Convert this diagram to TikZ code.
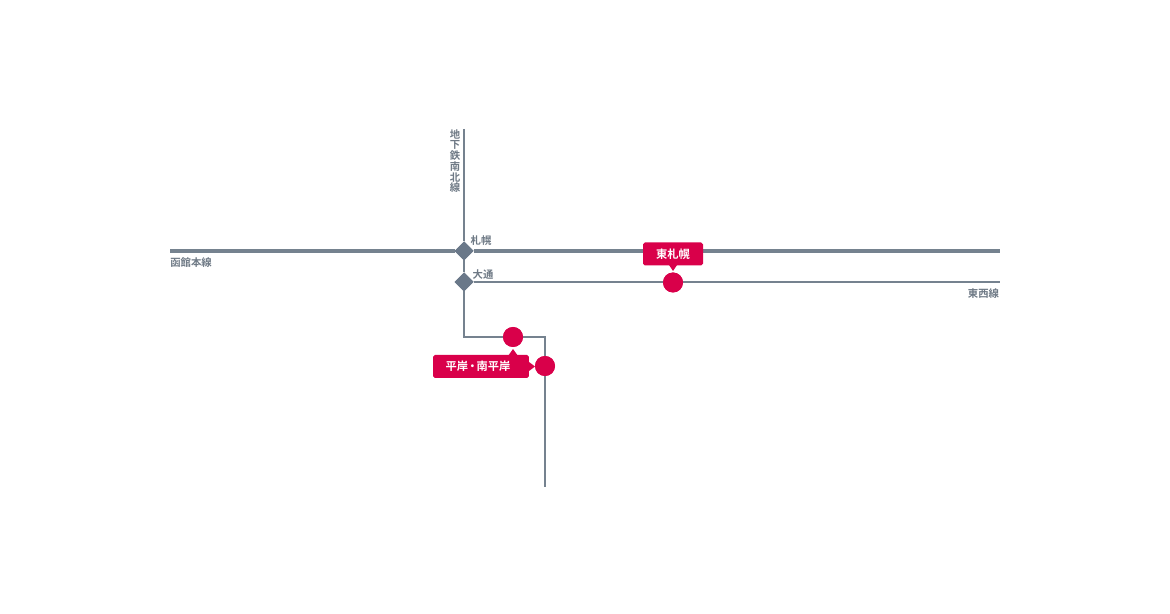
\documentclass[tikz,border=0pt]{standalone}
\usepackage{fontspec}
\setmainfont{Noto Sans CJK JP}[BoldFont={Noto Sans CJK JP Bold}]
\usepackage{xcolor}
\usetikzlibrary{positioning, shapes.geometric, shapes.misc, calc}
\definecolor{linegray}{HTML}{75828F}
\definecolor{nodegray}{HTML}{6A7889}
\definecolor{stopred}{HTML}{D9004A}
\definecolor{labelgray}{HTML}{6E7985}

\begin{document}
\begin{tikzpicture}[x=0.02cm, y=-0.02cm]
		\tikzstyle{stoplabel}=[fill=stopred, rounded corners=1pt, inner sep=0pt, minimum height=0.46cm, text=white, font=\fontsize{6.4pt}{7pt}\selectfont\bfseries]
		\tikzstyle{stopdot}=[circle, fill=stopred, minimum size=0.4cm, inner sep=0pt, outer sep=0pt]
		\tikzstyle{junction}=[diamond, fill=nodegray, minimum size=0.38cm, inner sep=0pt, outer sep=0pt]
		\tikzstyle{linename}=[text=labelgray, inner sep=0pt, font=\fontsize{5.9pt}{6.1pt}\selectfont\bfseries]
		\tikzstyle{thinline}=[draw=linegray, line width=0.75pt]
		\tikzstyle{thickline}=[draw=linegray, line width=2.1pt]

		\useasboundingbox (0,0) rectangle (1170,614);

		% free ends of the lines
		\coordinate (mainw) at (170,251);
		\coordinate (maine) at (1000,251);
		\coordinate (subn) at (464,129);
		\coordinate (tozai) at (1000,282);
		\coordinate (bendl) at (464,337);
		\coordinate (bendr) at (545,337);
		\coordinate (sube) at (545,487);

		\node (sapporo) at (464,251) [junction] {};
		\node (odori) at (464,282) [junction] {};
		\node (higashi) at (673,282.5) [stopdot] {};
		\node (hiragishi) at (513,337) [stopdot] {};
		\node (minami) at (545,366) [stopdot] {};

		\draw [thickline] (mainw) -- (sapporo) -- (maine);
		\draw [thinline] (subn) -- (sapporo) -- (odori) -- (bendl) -- (hiragishi) -- (bendr) -- (minami) -- (sube);
		\draw [thinline] (odori) -- (tozai);

		% junctions and stops again, on top of the lines
		\node at (sapporo) [junction] {};
		\node at (odori) [junction] {};
		\node at (higashi) [stopdot] {};
		\node at (hiragishi) [stopdot] {};
		\node at (minami) [stopdot] {};

		\node (higashilabel) at (673,254) [stoplabel, minimum width=1.2cm] {東札幌};
		\node (hirlabel) at (481,366.5) [stoplabel, minimum width=1.92cm] {\hspace{-0.12cm}平岸\kern-0.12em・\kern-0.12em南平岸};

		\fill [stopred] (669,265) -- (677,265) -- (673,271) -- cycle;
		\fill [stopred] (508,356) -- (518,356) -- (513,349) -- cycle;
		\fill [stopred] (529,362) -- (529,371) -- (535,366.5) -- cycle;

		\node (hakodate) at (191,262.5) [linename] {函館本線};
		\node (tozainame) at (983.5,293.5) [linename] {東西線};
		\node (namboku) at (455,161) [linename, align=center] {地\\下\\鉄\\南\\北\\線};
		\node (sapporoname) at (481,241) [linename] {札幌};
		\node (odoriname) at (483,274.5) [linename] {大通};
\end{tikzpicture}
\end{document}
